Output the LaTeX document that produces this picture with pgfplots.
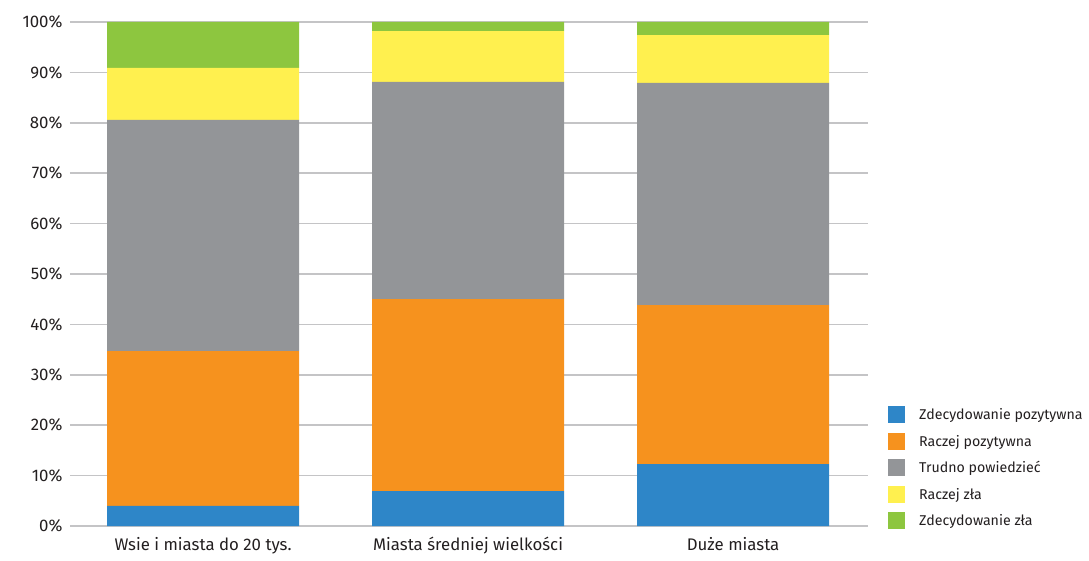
\documentclass[border=0pt]{standalone}
\usepackage{pgfplots}
\pgfplotsset{compat=1.18}
\usepackage{fontspec}
\setmainfont{Fira Sans}
\definecolor{cBlue}{HTML}{2E86C8}
\definecolor{cOrange}{HTML}{F6921E}
\definecolor{cGray}{HTML}{939598}
\definecolor{cYellow}{HTML}{FFF04F}
\definecolor{cGreen}{HTML}{8DC63F}
\definecolor{cGrid}{HTML}{C4C4C6}
\definecolor{cText}{HTML}{231F20}
\begin{document}
\begin{tikzpicture}
\useasboundingbox (-70pt,-34pt) rectangle (1019pt,526pt);
\begin{axis}[
  at={(0,0)}, anchor=south west,
  scale only axis,
  width=798pt, height=504pt,
  ybar stacked,
  bar width=192pt,
  xmin=-0.502, xmax=2.509,
  ymin=0, ymax=100,
  xtick={0,1,2},
  xticklabels={Wsie i miasta do 20 tys., Miasta średniej wielkości, Duże miasta},
  ytick={0,10,...,100},
  yticklabel={\pgfmathprintnumber{\tick}\%},
  /pgf/number format/assume math mode=true,
  axis line style={draw=none},
  major tick length=0pt,
  ymajorgrids,
  grid style={cGrid, line width=1.5pt},
  tick label style={font=\fontsize{16.8}{20}\selectfont, text=cText},
  yticklabel style={xshift=-4pt},
  xticklabel style={yshift=-8pt},
  legend style={
    draw=none, inner sep=0pt,
    at={(rel axis cs:1.025,0.238)}, anchor=north west,
    font=\fontsize{14.2}{17}\selectfont, text=cText,
    legend cell align=left,
    row sep=9.5pt,
    /tikz/every even column/.append style={column sep=0pt},
  },
  legend image code/.code={\fill[#1] (0pt,-8.5pt) rectangle (17pt,8.5pt);},
  /tikz/every odd column/.append style={column sep=12pt},
]
\addplot[fill=cBlue, draw=none] coordinates {(0,4.0) (1,6.9) (2,12.3)};
\addplot[fill=cOrange, draw=none] coordinates {(0,30.7) (1,38.1) (2,31.5)};
\addplot[fill=cGray, draw=none] coordinates {(0,45.9) (1,43.1) (2,44.1)};
\addplot[fill=cYellow, draw=none] coordinates {(0,10.3) (1,10.1) (2,9.5)};
\addplot[fill=cGreen, draw=none] coordinates {(0,9.1) (1,1.8) (2,2.6)};
\legend{Zdecydowanie pozytywna, Raczej pozytywna, Trudno powiedzieć, Raczej zła, Zdecydowanie zła}
\end{axis}
\end{tikzpicture}
\end{document}
